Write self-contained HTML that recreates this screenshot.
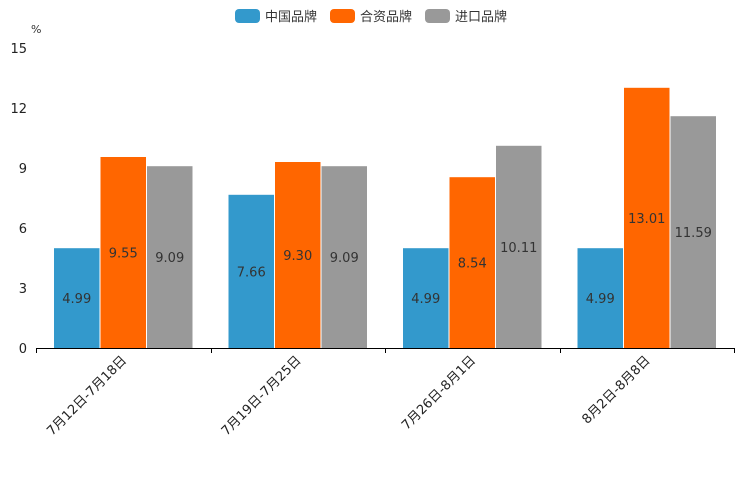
<!DOCTYPE html>
<html><head><meta charset="utf-8"><style>
body{margin:0;background:#fff;font-family:"DejaVu Sans","Noto Sans CJK SC",sans-serif}
svg text{font-family:"DejaVu Sans","Noto Sans CJK SC",sans-serif}
</style></head><body>
<svg id="c" width="744" height="496"></svg>
<script>
const categories=["7月12日-7月18日","7月19日-7月25日","7月26日-8月1日","8月2日-8月8日"];
const seriesNames=["中国品牌","合资品牌","进口品牌"];
const seriesColors=["#3399cc","#ff6600","#999999"];
const chinaVals=[4.99,7.66,4.99,4.99];
const jvVals=[9.55,9.30,8.54,13.01];
const importVals=[9.09,9.09,10.11,11.59];
const yTicks=[0,3,6,9,12,15];
const series=[chinaVals,jvVals,importVals];
const NS="http://www.w3.org/2000/svg";
const svg=document.getElementById('c');
const x0=36,x1=734,y0=348,yTop=48,yMax=15;
const y=v=>y0-(v/yMax)*(y0-yTop);
const cw=(x1-x0)/categories.length;
const bw=46.5;
function mk(t,a,p){const e=document.createElementNS(NS,t);for(const k in a)e.setAttribute(k,a[k]);(p||svg).appendChild(e);return e;}
let lx=235;
seriesNames.forEach((n,i)=>{
  const r=mk('rect',{x:lx,y:9,width:25,height:14,rx:4,fill:seriesColors[i]});
  
  
  const t=mk('text',{x:lx+30,y:21,'font-size':13,fill:'#333'});t.textContent=n;
  
  
  lx+=95;
});
const u=mk('text',{x:31,y:33,'font-size':11,fill:'#333'});u.textContent='%';


yTicks.forEach(v=>{
  const t=mk('text',{x:27,y:y(v)+5,'font-size':13,fill:'#222','text-anchor':'end'});t.textContent=v;
  
  
});
categories.forEach((c,ci)=>{
  const cx=x0+cw*(ci+0.5);
  series.forEach((s,si)=>{
    const bx=cx-1.5*bw+si*bw;
    const r=mk('rect',{x:bx+0.5,y:y(s[ci]),width:bw-1,height:y0-y(s[ci]),fill:seriesColors[si]});
    
    
    const t=mk('text',{x:bx+bw/2,y:(y(s[ci])+y0)/2+5,'font-size':13,fill:'#333','text-anchor':'middle'});
    t.textContent=s[ci].toFixed(2);
    
    
  });
  const t=mk('text',{x:cx+4,y:361,'font-size':13,fill:'#222','text-anchor':'end',transform:`rotate(-45 ${cx+4} 361)`});
  t.textContent=c;
  
  
});
const ax=mk('line',{x1:x0,x2:x1,y1:y0+0.5,y2:y0+0.5,stroke:'#000','stroke-width':1});


for(let i=0;i<=categories.length;i++){
  const tx=Math.round(x0+cw*i)+0.5;
  const l=mk('line',{x1:tx,x2:tx,y1:y0,y2:y0+5,stroke:'#000'});
  
  
}
</script>
</body></html>
